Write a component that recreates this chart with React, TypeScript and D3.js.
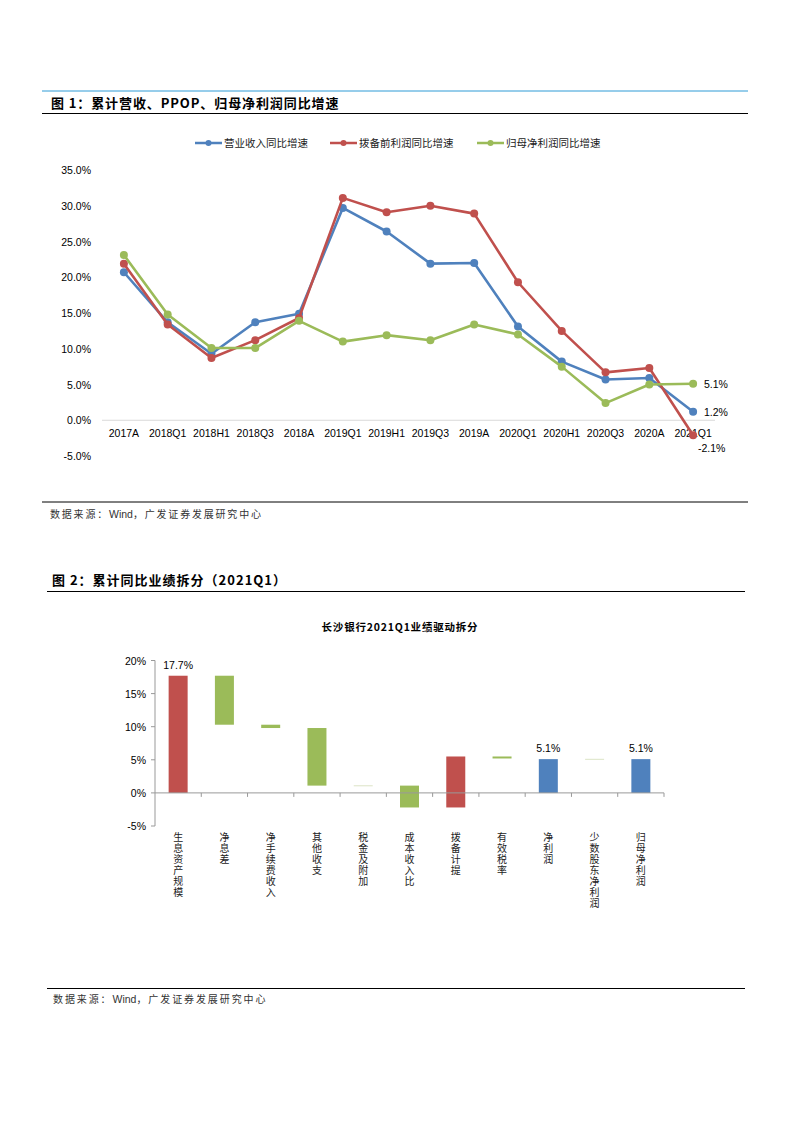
import React from "react";
import * as d3 from "d3";

const lineCategories = ["2017A","2018Q1","2018H1","2018Q3","2018A","2019Q1","2019H1","2019Q3","2019A","2020Q1","2020H1","2020Q3","2020A","2021Q1"];
const revenueGrowth = [20.7,13.7,9.3,13.7,14.9,29.7,26.4,21.9,22.0,13.1,8.2,5.7,5.9,1.2];
const ppopGrowth = [21.9,13.4,8.7,11.2,14.3,31.1,29.1,30.0,28.9,19.3,12.5,6.7,7.3,-2.1];
const netProfitGrowth = [23.1,14.8,10.1,10.1,13.9,11.0,11.9,11.2,13.4,12.0,7.5,2.4,5.0,5.1];
const lineTicks = [-5,0,5,10,15,20,25,30,35];
const lineSeriesNames = ["营业收入同比增速","拨备前利润同比增速","归母净利润同比增速"];

const wfCategories = ["生息资产规模","净息差","净手续费收入","其他收支","税金及附加","成本收入比","拨备计提","有效税率","净利润","少数股东净利润","归母净利润"];
const wfBase = [0,10.3,9.8,1.1,1.0,-2.2,-2.2,5.2,0,5.05,0];
const wfTop = [17.7,17.7,10.3,9.8,1.15,1.1,5.5,5.5,5.1,5.15,5.1];
const wfKind = ["red","green","green","green","pale","green","red","green","blue","pale","blue"];
const wfLabels = ["17.7%","","","","","","","","5.1%","","5.1%"];
const wfTicks = [-5,0,5,10,15,20];

const COLORS: Record<string,string> = { blue: "#4F81BD", red: "#C0504D", green: "#9BBB59", pale: "#DCE4C6" };
const FONT = "'Liberation Sans', Arial, 'Noto Sans CJK SC', sans-serif";
const CJK = "'Noto Sans CJK SC', 'Liberation Sans', sans-serif";

function SourceNote({ x, y, spacing }: { x: number; y: number; spacing: number }) {
  return (
    <text x={x} y={y} fontFamily={CJK} fontSize={10} fill="#333">
      <tspan letterSpacing={spacing}>数据来源：</tspan>
      <tspan fontFamily={FONT} fontSize={10.5} letterSpacing={0}>Wind</tspan>
      <tspan letterSpacing={spacing}>，广发证券发展研究中心</tspan>
    </text>
  );
}

export default function App() {
  const x1 = d3.scaleBand<string>().domain(lineCategories).range([102, 715]);
  const y1 = d3.scaleLinear().domain([-5, 35]).range([456, 170]);
  const cx = (c: string) => (x1(c) as number) + x1.bandwidth() / 2;
  const series = [
    { name: lineSeriesNames[0], values: revenueGrowth, color: COLORS.blue },
    { name: lineSeriesNames[1], values: ppopGrowth, color: COLORS.red },
    { name: lineSeriesNames[2], values: netProfitGrowth, color: COLORS.green },
  ];
  const lineGen = d3.line<number>()
    .x((_, i) => cx(lineCategories[i]))
    .y((d) => y1(d));
  const legendX = [195, 330, 477];

  const x2 = d3.scaleBand<string>().domain(wfCategories).range([155, 664]);
  const y2 = d3.scaleLinear().domain([-5, 20]).range([826, 660.5]);
  const barW = 19;
  const bc = (c: string) => (x2(c) as number) + x2.bandwidth() / 2;

  const last = lineCategories.length - 1;

  return (
    <svg width={793} height={1122} style={{ position: "absolute", left: 0, top: 0, background: "#fff" }}>
      <line x1={42} x2={748} y1={91} y2={91} stroke="#2E9BD6" strokeWidth={1} />
      <text x={51} y={107.5} fontFamily={CJK} fontWeight="bold" fontSize={13} letterSpacing={0.9} fill="#000">图 1：累计营收、PPOP、归母净利润同比增速</text>
      <line x1={42} x2={748} y1={113.5} y2={113.5} stroke="#000" strokeWidth={1} />

      {series.map((s, i) => (
        <g key={s.name}>
          <line x1={legendX[i]} x2={legendX[i] + 27} y1={143} y2={143} stroke={s.color} strokeWidth={2.5} />
          <circle cx={legendX[i] + 13.5} cy={143} r={3} fill={s.color} />
          <text x={legendX[i] + 29} y={147} fontFamily={CJK} fontSize={10.5} fill="#222">{s.name}</text>
        </g>
      ))}

      {lineTicks.map((t) => (
        <text key={t} x={91} y={y1(t) + 4} textAnchor="end" fontFamily={FONT} fontSize={10.5} fill="#000">{t.toFixed(1)}%</text>
      ))}
      <line x1={102} x2={715} y1={y1(0)} y2={y1(0)} stroke="#D9D9D9" strokeWidth={1.2} />
      {lineCategories.map((c) => (
        <text key={c} x={cx(c)} y={437} textAnchor="middle" fontFamily={FONT} fontSize={10.5} fill="#000">{c}</text>
      ))}

      {series.map((s) => (
        <g key={s.name}>
          <path d={lineGen(s.values) || ""} fill="none" stroke={s.color} strokeWidth={2.6} strokeLinejoin="round" />
          {s.values.map((v, i) => (
            <circle key={i} cx={cx(lineCategories[i])} cy={y1(v)} r={4} fill={s.color} />
          ))}
        </g>
      ))}
      <text x={704} y={y1(netProfitGrowth[last]) + 4} fontFamily={FONT} fontSize={10.5} fill="#000">{netProfitGrowth[last].toFixed(1)}%</text>
      <text x={704} y={y1(revenueGrowth[last]) + 4} fontFamily={FONT} fontSize={10.5} fill="#000">{revenueGrowth[last].toFixed(1)}%</text>
      <text x={698} y={452} fontFamily={FONT} fontSize={10.5} fill="#000">{ppopGrowth[last].toFixed(1)}%</text>

      <line x1={42} x2={748} y1={502} y2={502} stroke="#000" strokeWidth={1} />
      <SourceNote x={50} y={518} spacing={1.8} />

      <text x={52} y={585} fontFamily={CJK} fontWeight="bold" fontSize={13} letterSpacing={1} fill="#000">图 2：累计同比业绩拆分（2021Q1）</text>
      <line x1={47} x2={745} y1={591.5} y2={591.5} stroke="#000" strokeWidth={1} />
      <text x={400} y={631} textAnchor="middle" fontFamily={CJK} fontWeight="bold" fontSize={10.5} letterSpacing={0.8} fill="#000">长沙银行2021Q1业绩驱动拆分</text>

      <line x1={155} x2={155} y1={y2(20)} y2={y2(-5)} stroke="#999" strokeWidth={1} />
      {wfTicks.map((t) => (
        <g key={t}>
          <line x1={151} x2={155} y1={y2(t)} y2={y2(t)} stroke="#999" />
          <text x={146} y={y2(t) + 4} textAnchor="end" fontFamily={FONT} fontSize={10.5} fill="#000">{t}%</text>
        </g>
      ))}
      {wfCategories.map((c, i) => {
        const lo = Math.min(wfBase[i], wfTop[i]);
        const hi = Math.max(wfBase[i], wfTop[i]);
        const h = Math.max(1, y2(lo) - y2(hi));
        return (
          <g key={c}>
            <rect x={bc(c) - barW / 2} y={y2(hi)} width={barW} height={h} fill={COLORS[wfKind[i]]} />
            {wfLabels[i] && (
              <text x={bc(c)} y={y2(hi) - 7} textAnchor="middle" fontFamily={FONT} fontSize={10.5} fill="#000">{wfLabels[i]}</text>
            )}
          </g>
        );
      })}
      <line x1={155} x2={664} y1={y2(0)} y2={y2(0)} stroke="#999" strokeWidth={1} />
      {wfCategories.map((c) => (
        <line key={c + "t"} x1={(x2(c) as number) + x2.bandwidth()} x2={(x2(c) as number) + x2.bandwidth()} y1={y2(0)} y2={y2(0) + 4} stroke="#999" />
      ))}
      {wfCategories.map((c) => (
        <text key={c + "l"} x={bc(c)} y={832} fontFamily={CJK} fontSize={10} letterSpacing={1} fill="#222"
          style={{ writingMode: "vertical-rl", textOrientation: "upright" } as React.CSSProperties}>{c}</text>
      ))}

      <line x1={47} x2={745} y1={988.5} y2={988.5} stroke="#000" strokeWidth={1} />
      <SourceNote x={53} y={1003} spacing={1.9} />
    </svg>
  );
}
